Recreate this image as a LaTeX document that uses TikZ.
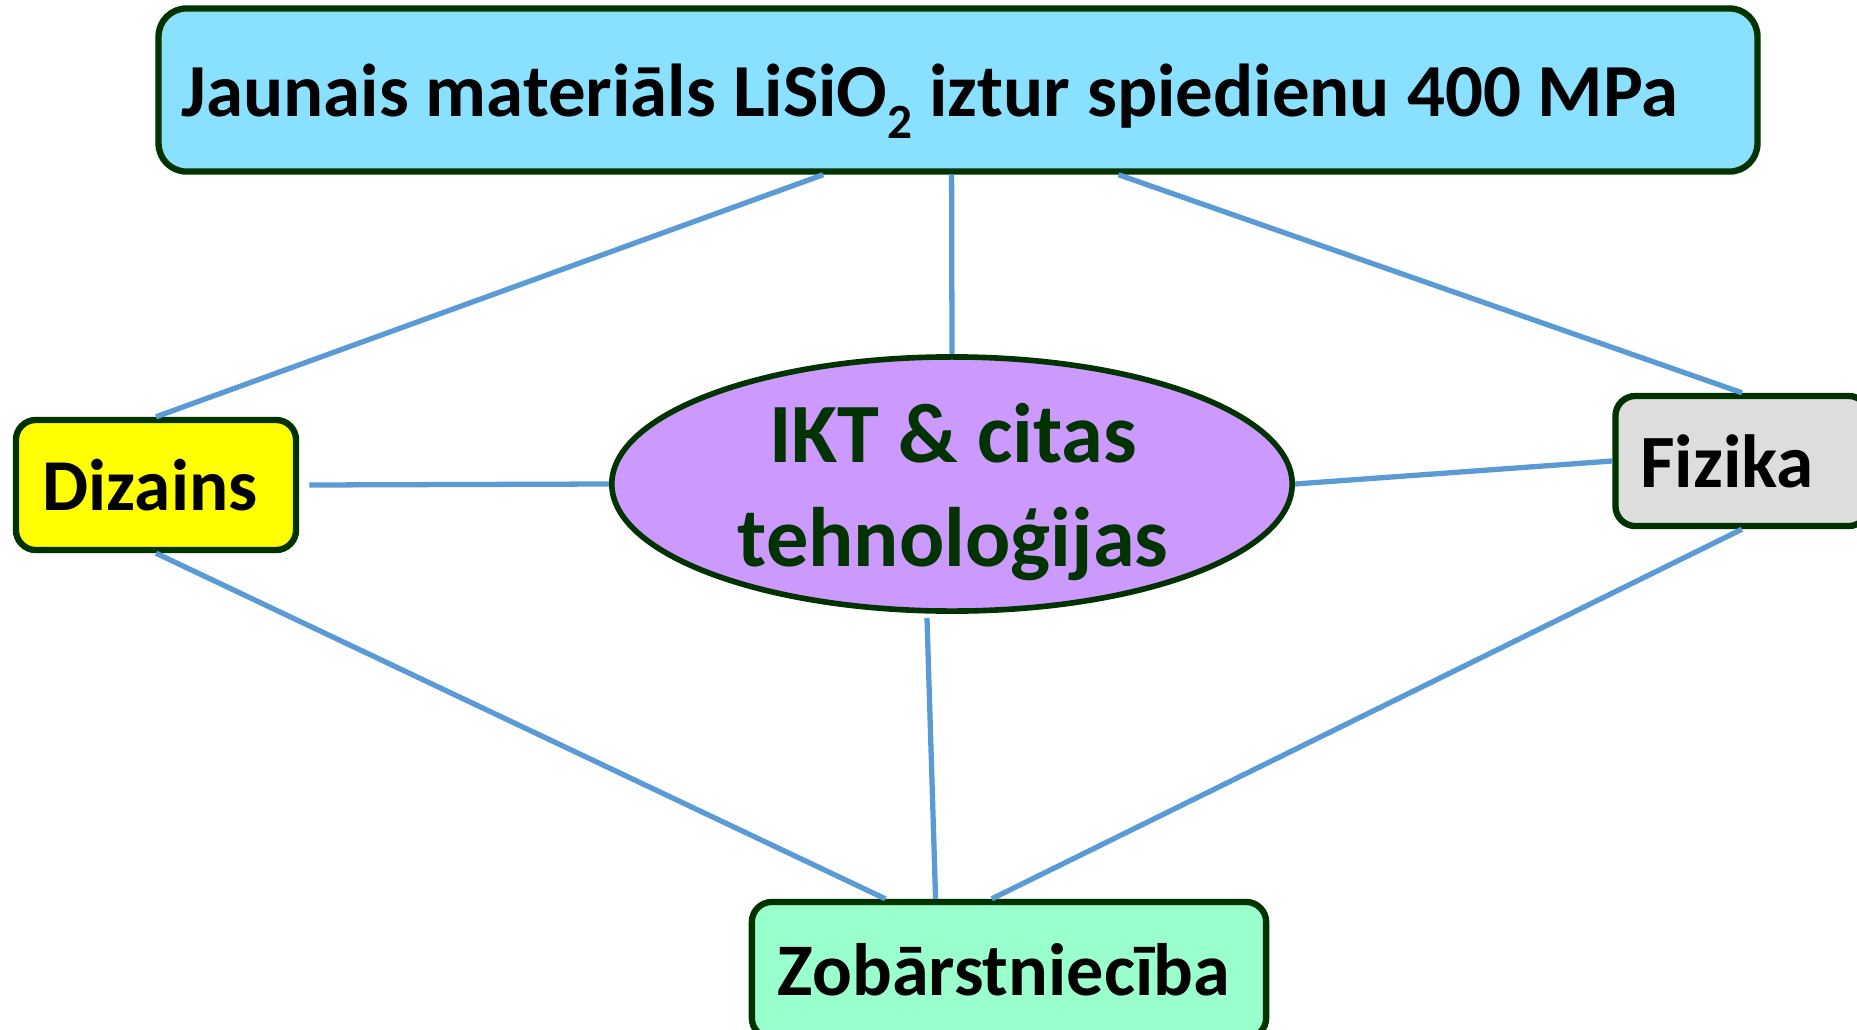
\documentclass[tikz,border=0pt]{standalone}
\usepackage{fontspec}
\setmainfont{Carlito}
\usetikzlibrary{shapes.geometric,calc}
\definecolor{bordergreen}{HTML}{003300}
\definecolor{linkblue}{HTML}{5B9BD5}
\definecolor{topcyan}{HTML}{89E0FF}
\definecolor{ellviolet}{HTML}{CC99FF}
\definecolor{zobgreen}{HTML}{99FFCC}
\definecolor{fizgrey}{HTML}{DDDDDD}
\definecolor{dizyellow}{HTML}{FFFF00}
\begin{document}
\begin{tikzpicture}[x=0.01cm,y=-0.01cm,
  box/.style={draw=bordergreen, line width=1.8pt, rounded corners=0.2cm, inner sep=0pt,
    font=\bfseries\fontsize{21.4}{26}\selectfont},
  link/.style={draw=linkblue, line width=1.5pt}]
\useasboundingbox (0,0) rectangle (1857,1030);
% nodes
\node[box, rounded corners=0.28cm, fill=topcyan, minimum width=15.98cm, minimum height=1.63cm] (top) at (958,90) {};
\node[anchor=base, inner sep=0pt, font=\bfseries\fontsize{21.3}{25}\selectfont] (toptext) at (930,116)
  {Jaunais materiāls LiSiO\raisebox{-0.3em}{\fontsize{14}{14}\selectfont 2} iztur spiedienu 400 MPa};
\node[box, fill=dizyellow, minimum width=2.8cm, minimum height=1.3cm, font=\bfseries\fontsize{20.8}{25}\selectfont] (diz) at (156,485) {\hspace*{-0.12cm}Dizains};
\node[box, fill=fizgrey, minimum width=2.53cm, minimum height=1.3cm] (fiz) at (1742,461) {\hspace*{-0.3cm}Fizika};
\node[box, fill=zobgreen, minimum width=5.14cm, minimum height=1.36cm, font=\bfseries\fontsize{21.1}{25}\selectfont] (zob) at (1009,970) {\hspace*{-0.1cm}Zobārstniecība};
\node[ellipse, draw=bordergreen, line width=1.6pt, fill=ellviolet, minimum width=6.8cm, minimum height=2.54cm,
  inner sep=0pt] (ell) at (952,484) {};
\node[inner sep=0pt, align=center, text=bordergreen, font=\bfseries\fontsize{24}{29.5}\selectfont] (elltext) at (953,492)
  {IKT \& citas\\tehnoloģijas};
% connectors
\draw[link] ($(top.south west)!0.416!(top.south east)$) -- (diz.north);
\draw[link] ($(top.south west)!0.496!(top.south east)$) -- (ell.north);
\draw[link] ($(top.south west)!0.600!(top.south east)$) -- (fiz.north);
\draw[link] ([xshift=0.1cm]diz.east) -- (ell.west);
\draw[link] (ell.east) -- (fiz.west);
\draw[link] (diz.south) -- ($(zob.north west)!0.2625!(zob.north east)$);
\draw[link] ([xshift=-0.25cm,yshift=-0.04cm]ell.south) -- ($(zob.north west)!0.359!(zob.north east)$);
\draw[link] (fiz.south) -- ($(zob.north west)!0.467!(zob.north east)$);
\end{tikzpicture}
\end{document}
